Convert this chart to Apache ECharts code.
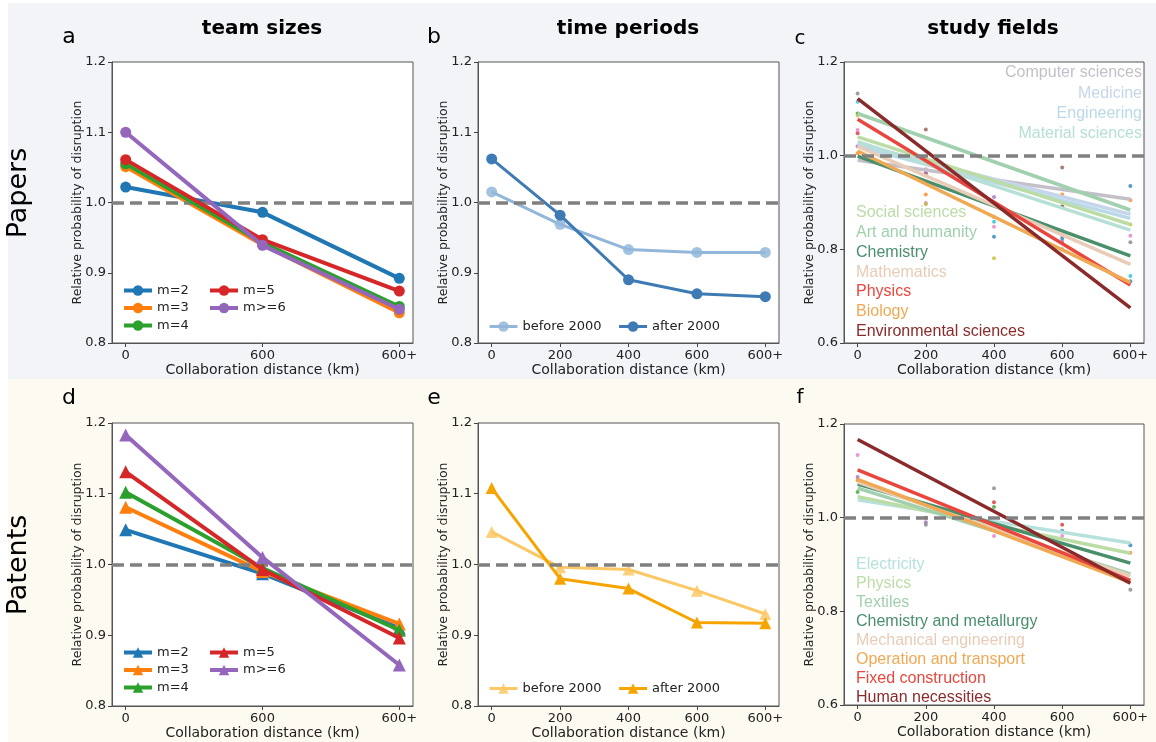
<!DOCTYPE html>
<html>
<head>
<meta charset="utf-8">
<script src="https://cdn.jsdelivr.net/npm/echarts@6/dist/echarts.min.js"></script>
<style>html,body{margin:0;padding:0;background:#fff}#chart{width:1156px;height:742px}</style>
</head>
<body>
<div id="chart"></div>
<script>
// ---------------- data ----------------
const teamDistLabels = ['0', '600', '600+'];
const timeDistLabels = ['0', '200', '400', '600', '600+'];
const fieldDistLabels = ['0', '200', '400', '600', '600+'];
const teamNames = ['m=2', 'm=3', 'm=4', 'm=5', 'm>=6'];
const periodNames = ['before 2000', 'after 2000'];

const papersM2 = [1.022, 0.986, 0.892];
const papersM3 = [1.051, 0.940, 0.843];
const papersM4 = [1.055, 0.943, 0.852];
const papersM5 = [1.061, 0.947, 0.874];
const papersM6 = [1.100, 0.939, 0.848];

const patentsM2 = [1.049, 0.987, 0.910];
const patentsM3 = [1.081, 0.990, 0.916];
const patentsM4 = [1.102, 0.995, 0.907];
const patentsM5 = [1.131, 0.993, 0.896];
const patentsM6 = [1.183, 1.010, 0.858];

const papersBefore2000 = [1.015, 0.969, 0.933, 0.929, 0.929];
const papersAfter2000 = [1.062, 0.982, 0.890, 0.870, 0.866];
const patentsBefore2000 = [1.046, 0.996, 0.993, 0.963, 0.930];
const patentsAfter2000 = [1.108, 0.980, 0.966, 0.918, 0.917];

// study fields (papers): fitted line at 0 and at 600+
const paperFields = ['Computer sciences', 'Medicine', 'Engineering', 'Material sciences',
  'Social sciences', 'Art and humanity', 'Chemistry', 'Mathematics', 'Physics', 'Biology',
  'Environmental sciences'];
const paperFieldStart = [0.990, 1.025, 1.020, 1.030, 1.040, 1.090, 0.999, 1.020, 1.078, 1.010, 1.122];
const paperFieldEnd = [0.907, 0.875, 0.866, 0.841, 0.853, 0.884, 0.786, 0.768, 0.724, 0.729, 0.675];

// study fields (patents)
const patentFields = ['Electricity', 'Physics', 'Textiles', 'Chemistry and metallurgy',
  'Mechanical engineering', 'Operation and transport', 'Fixed construction', 'Human necessities'];
const patentFieldStart = [1.038, 1.045, 1.063, 1.072, 1.076, 1.082, 1.102, 1.167];
const patentFieldEnd = [0.946, 0.924, 0.880, 0.903, 0.876, 0.862, 0.866, 0.860];

// observed points behind the fits, as [distance index, value]
const paperDotsBlue = [[2, 0.827], [3, 0.823], [4, 0.935], [4, 0.732]];
const paperDotsOrange = [[0, 1.005], [1, 0.917], [3, 0.917], [4, 0.905]];
const paperDotsGreen = [[0, 1.090], [2, 0.945], [3, 0.890]];
const paperDotsRed = [[0, 1.048], [1, 0.962], [3, 0.830]];
const paperDotsPurple = [[0, 1.020], [1, 0.965], [2, 0.912], [3, 0.816]];
const paperDotsBrown = [[1, 1.056], [3, 0.975], [3, 0.892]];
const paperDotsPink = [[0, 1.055], [1, 0.971], [1, 0.899], [2, 0.848], [4, 0.829]];
const paperDotsGray = [[0, 1.133], [2, 0.869], [4, 0.815]];
const paperDotsOlive = [[0, 1.086], [1, 0.896], [2, 0.781], [4, 0.853]];
const paperDotsCyan = [[0, 1.115], [2, 0.859], [3, 0.800], [4, 0.743]];

const patentDotsBlue = [[3, 0.972], [4, 0.941]];
const patentDotsOrange = [[0, 1.080], [4, 0.925]];
const patentDotsGreen = [[0, 1.055], [2, 1.023]];
const patentDotsRed = [[1, 1.000], [2, 1.033], [3, 0.985]];
const patentDotsPurple = [[0, 1.087], [1, 0.990]];
const patentDotsPink = [[0, 1.134], [2, 0.961], [3, 0.961]];
const patentDotsGray = [[1, 0.985], [2, 1.063], [4, 0.846]];

// ---------------- styles ----------------
const FONT = 'DejaVu Sans';
const tab10 = ['#1f77b4', '#ff7f0e', '#2ca02c', '#d62728', '#9467bd', '#8c564b', '#e377c2', '#7f7f7f', '#bcbd22', '#17becf'];
const paperFieldColors = ['#c3c0c9', '#c6d6ea', '#b9d9e9', '#b6e0d6', '#bcdca6', '#a0d0ad', '#4a8f6c', '#e8ccb8', '#e9463d', '#f1a853', '#8b2a2a'];
const patentFieldColors = ['#b6e1dd', '#bcdca6', '#a0d0ad', '#4a8f6c', '#e8ccb8', '#f1a853', '#e9463d', '#8b2a2a'];
const periodPaperColors = ['#92b7d9', '#3e7ab3'];
const periodPatentColors = ['#fcc866', '#f7a400'];

const grids = [
  {left: 112, top: 62, width: 301, height: 281},
  {left: 478, top: 62, width: 301, height: 281},
  {left: 844, top: 62, width: 300, height: 281},
  {left: 112, top: 423, width: 301, height: 283},
  {left: 478, top: 423, width: 301, height: 283},
  {left: 844, top: 424, width: 300, height: 281}
].map(g => Object.assign({show: true, backgroundColor: '#fff', borderColor: '#555', borderWidth: 1}, g));

function xAxisDef(gi, labels) {
  const idx = labels.map((_, i) => i);
  const pad = labels.length === 3 ? 0.1 : 0.2;
  return {
    gridIndex: gi, type: 'value', min: -pad, max: labels.length - 1 + pad,
    axisLine: {show: true, onZero: false, lineStyle: {color: '#555', width: 1}},
    axisTick: {show: true, customValues: idx, length: 4, lineStyle: {color: '#444'}},
    axisLabel: {customValues: idx, formatter: v => labels[Math.round(v)], color: '#222', fontSize: 13, fontFamily: FONT, margin: 6},
    splitLine: {show: false},
    name: 'Collaboration distance (km)', nameLocation: 'middle', nameGap: 18,
    nameTextStyle: {fontSize: 14, color: '#222', fontFamily: FONT}
  };
}
function yAxisDef(gi, min, max, interval) {
  return {
    gridIndex: gi, type: 'value', min: min, max: max, interval: interval,
    axisLine: {show: true, onZero: false, lineStyle: {color: '#555', width: 1}},
    axisTick: {show: true, length: 4, lineStyle: {color: '#444'}},
    axisLabel: {formatter: v => v.toFixed(1), color: '#222', fontSize: 13, fontFamily: FONT, margin: 6},
    splitLine: {show: false},
    name: 'Relative probability of disruption', nameLocation: 'middle', nameGap: 28,
    nameMoveOverlap: false,
    nameTextStyle: {fontSize: 12.5, color: '#222', fontFamily: FONT}
  };
}

const xAxes = [xAxisDef(0, teamDistLabels), xAxisDef(1, timeDistLabels), xAxisDef(2, fieldDistLabels),
  xAxisDef(3, teamDistLabels), xAxisDef(4, timeDistLabels), xAxisDef(5, fieldDistLabels)];
const yAxes = [yAxisDef(0, 0.8, 1.2, 0.1), yAxisDef(1, 0.8, 1.2, 0.1), yAxisDef(2, 0.6, 1.2, 0.2),
  yAxisDef(3, 0.8, 1.2, 0.1), yAxisDef(4, 0.8, 1.2, 0.1), yAxisDef(5, 0.6, 1.2, 0.2)];

const toPts = arr => arr.map((v, i) => [i, v]);
const series = [];

function refLine(gi, z) {
  series.push({
    type: 'line', xAxisIndex: gi, yAxisIndex: gi, data: [], z: z, silent: true,
    markLine: {silent: true, symbol: 'none', label: {show: false}, animation: false,
      lineStyle: {color: '#808080', type: [12, 6], width: 3.5}, data: [{yAxis: 1}]}
  });
}

// dashed references under lines for a,b,d,e
[0, 1, 3, 4].forEach(g => refLine(g, 1));

// team sizes
const papersTeam = [papersM2, papersM3, papersM4, papersM5, papersM6];
const patentsTeam = [patentsM2, patentsM3, patentsM4, patentsM5, patentsM6];
papersTeam.forEach((arr, i) => series.push({
  type: 'line', name: teamNames[i] + '|a', xAxisIndex: 0, yAxisIndex: 0, data: toPts(arr),
  symbol: 'circle', symbolSize: 11, color: tab10[i], lineStyle: {width: 4}, z: 3 + i, animation: false
}));
patentsTeam.forEach((arr, i) => series.push({
  type: 'line', name: teamNames[i] + '|d', xAxisIndex: 3, yAxisIndex: 3, data: toPts(arr),
  symbol: 'triangle', symbolSize: 13, color: tab10[i], lineStyle: {width: 4}, z: 3 + i, animation: false
}));

// time periods
[papersBefore2000, papersAfter2000].forEach((arr, i) => series.push({
  type: 'line', name: periodNames[i] + '|b', xAxisIndex: 1, yAxisIndex: 1, data: toPts(arr),
  symbol: 'circle', symbolSize: 11, color: periodPaperColors[i], lineStyle: {width: 3},
  itemStyle: {opacity: i === 0 ? 0.85 : 1}, z: 3 + i, animation: false
}));
[patentsBefore2000, patentsAfter2000].forEach((arr, i) => series.push({
  type: 'line', name: periodNames[i] + '|e', xAxisIndex: 4, yAxisIndex: 4, data: toPts(arr),
  symbol: 'triangle', symbolSize: 12, color: periodPatentColors[i], lineStyle: {width: 3},
  itemStyle: {opacity: i === 0 ? 0.85 : 1}, z: 3 + i, animation: false
}));

// study fields dots
function dots(gi, data, color) {
  series.push({type: 'scatter', xAxisIndex: gi, yAxisIndex: gi, data: data, symbolSize: 4,
    itemStyle: {color: color, opacity: 0.75}, z: 2, silent: true, animation: false});
}
[paperDotsBlue, paperDotsOrange, paperDotsGreen, paperDotsRed, paperDotsPurple, paperDotsBrown,
  paperDotsPink, paperDotsGray, paperDotsOlive, paperDotsCyan].forEach((d, i) => dots(2, d, tab10[i]));
[patentDotsBlue, patentDotsOrange, patentDotsGreen, patentDotsRed, patentDotsPurple].forEach((d, i) => dots(5, d, tab10[i]));
dots(5, patentDotsPink, tab10[6]);
dots(5, patentDotsGray, tab10[7]);

// study fields fitted lines
paperFields.forEach((name, i) => series.push({
  type: 'line', name: name + '|c', xAxisIndex: 2, yAxisIndex: 2,
  data: [[0, paperFieldStart[i]], [fieldDistLabels.length - 1, paperFieldEnd[i]]],
  symbol: 'none', color: paperFieldColors[i], lineStyle: {width: 3.5}, z: 3 + i * 0.01, animation: false
}));
patentFields.forEach((name, i) => series.push({
  type: 'line', name: name + '|f', xAxisIndex: 5, yAxisIndex: 5,
  data: [[0, patentFieldStart[i]], [fieldDistLabels.length - 1, patentFieldEnd[i]]],
  symbol: 'none', color: patentFieldColors[i], lineStyle: {width: 3.5}, z: 3 + i * 0.01, animation: false
}));
// dashed references above lines for c,f
[2, 5].forEach(g => refLine(g, 5));

// legends
const fmt = n => n.split('|')[0];
function legendDef(names, suffix, left, top, orient, gap, lw) {
  return {
    data: names.map(n => n + suffix), left: left, top: top, orient: orient, itemGap: gap,
    itemWidth: 28, itemHeight: 13, formatter: fmt, selectedMode: false,
    lineStyle: {width: lw},
    textStyle: {fontSize: 13, color: '#222', fontFamily: FONT}
  };
}
const legends = [
  legendDef(teamNames.slice(0, 3), '|a', 117, 279, 'vertical', 4.5, 4),
  legendDef(teamNames.slice(3), '|a', 203, 279, 'vertical', 4.5, 4),
  legendDef(periodNames, '|b', 483, 315, 'horizontal', 16, 3),
  legendDef(teamNames.slice(0, 3), '|d', 117, 641, 'vertical', 4.5, 4),
  legendDef(teamNames.slice(3), '|d', 203, 641, 'vertical', 4.5, 4),
  legendDef(periodNames, '|e', 483, 677, 'horizontal', 16, 3)
];

// text elements
const graphics = [
  {type: 'rect', shape: {x: 8, y: 3, width: 1148, height: 376}, style: {fill: '#f2f4f8'}, z: -10, silent: true},
  {type: 'rect', shape: {x: 8, y: 379, width: 1148, height: 363}, style: {fill: '#fdfbf1'}, z: -10, silent: true}
];
function txt(text, x, y, size, opts) {
  graphics.push(Object.assign({type: 'text', x: x, y: y, z: 100, silent: true,
    style: Object.assign({text: text, fontSize: size, fontFamily: FONT, fill: '#000',
      textAlign: 'center', textVerticalAlign: 'middle'}, (opts && opts.style) || {})},
    opts && opts.rotation !== undefined ? {rotation: opts.rotation} : {}));
}
txt('team sizes', 262, 29, 20, {style: {fontWeight: 'bold'}});
txt('time periods', 628, 29, 20, {style: {fontWeight: 'bold'}});
txt('study fields', 993, 29, 20, {style: {fontWeight: 'bold'}});
txt('a', 69, 37, 22); txt('b', 434, 37, 22); txt('c', 800, 39, 20);
txt('d', 69, 398, 22); txt('e', 434, 398, 22); txt('f', 800, 398, 20);
txt('Papers', 19, 193, 27, {rotation: Math.PI / 2});
txt('Patents', 19, 565, 27, {rotation: Math.PI / 2});

const LEG_FONT = 'Liberation Sans';
// panel c field labels
paperFields.slice(0, 4).forEach((n, i) => txt(n, 1142, 73 + i * 20.3, 16,
  {style: {textAlign: 'right', fill: paperFieldColors[i], fontFamily: LEG_FONT}}));
paperFields.slice(4).forEach((n, i) => txt(n, 856, 213 + i * 19.7, 16,
  {style: {textAlign: 'left', fill: paperFieldColors[i + 4], fontFamily: LEG_FONT}}));
// panel f field labels
patentFields.forEach((n, i) => txt(n, 856, 565 + i * 19, 16,
  {style: {textAlign: 'left', fill: patentFieldColors[i], fontFamily: LEG_FONT}}));

const chart = echarts.init(document.getElementById('chart'), null, {renderer: 'canvas'});
chart.setOption({
  backgroundColor: '#fff',
  animation: false,
  textStyle: {fontFamily: FONT},
  grid: grids,
  xAxis: xAxes,
  yAxis: yAxes,
  legend: legends,
  series: series,
  graphic: graphics
});
</script>
</body>
</html>
